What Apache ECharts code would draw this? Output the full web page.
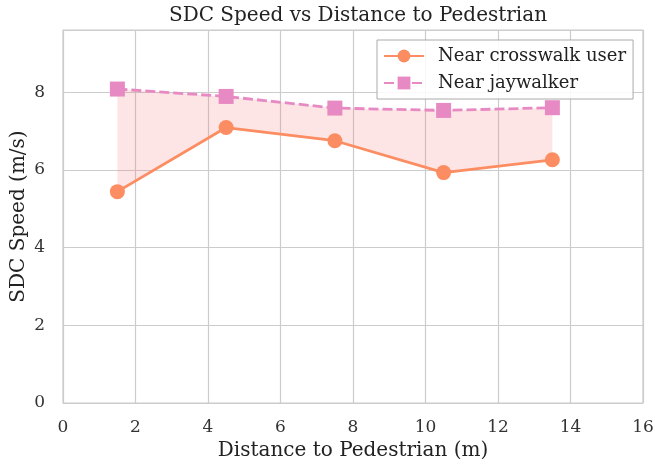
<!DOCTYPE html>
<html><head><meta charset="utf-8">
<script src="https://cdn.jsdelivr.net/npm/echarts@6/dist/echarts.min.js"></script>
<style>html,body{margin:0;padding:0;background:#fff}#c{width:655px;height:464px}</style>
</head><body><div id="c"></div>
<script>
const distances = [1.5, 4.5, 7.5, 10.5, 13.5];
const crosswalkSpeed = [5.44, 7.09, 6.75, 5.93, 6.26];
const jaywalkerSpeed = [8.08, 7.89, 7.59, 7.53, 7.60];
const xTicks = [0, 2, 4, 6, 8, 10, 12, 14, 16];
const yTicks = [0, 2, 4, 6, 8];

const FONT = 'DejaVu Serif';
const chart = echarts.init(document.getElementById('c'));
const pair = (xs, ys) => xs.map((x, i) => [x, ys[i]]);

chart.setOption({
  animation: false,
  textStyle: {fontFamily: FONT},
  title: {text: 'SDC Speed vs Distance to Pedestrian', left: 353, top: 1, textAlign: 'center',
    textStyle: {fontFamily: FONT, fontSize: 20, fontWeight: 'normal', color: '#222'}},
  grid: {left: 63, right: 12, top: 30, bottom: 61, show: true, borderColor: '#cccccc', borderWidth: 1.2,
    containLabel: false, outerBoundsMode: 'none'},
  legend: {
    data: ['Near crosswalk user', 'Near jaywalker'],
    orient: 'vertical', left: 377, top: 40,
    padding: [7, 7, 7, 6], itemGap: 9, itemWidth: 40, itemHeight: 16,
    borderColor: '#aaaaaa', borderWidth: 1, backgroundColor: 'rgba(255,255,255,0.85)', borderRadius: 0,
    textStyle: {fontFamily: FONT, fontSize: 18, color: '#222', padding: [0, 0, 0, 9]}
  },
  xAxis: {type: 'value', min: xTicks[0], max: xTicks[xTicks.length - 1], interval: 2,
    name: 'Distance to Pedestrian (m)', nameLocation: 'middle', nameGap: 38, nameMoveOverlap: false,
    nameTextStyle: {fontFamily: FONT, fontSize: 20, color: '#222'},
    axisLine: {show: false}, axisTick: {show: false},
    axisLabel: {fontFamily: FONT, fontSize: 17, color: '#333', margin: 16},
    splitLine: {show: true, lineStyle: {color: '#cccccc', width: 1.2}}},
  yAxis: {type: 'value', min: 0, max: 9.6, interval: 2,
    name: 'SDC Speed (m/s)', nameLocation: 'middle', nameGap: 34, nameMoveOverlap: false,
    nameTextStyle: {fontFamily: FONT, fontSize: 20, color: '#222'},
    axisLine: {show: false}, axisTick: {show: false},
    axisLabel: {fontFamily: FONT, fontSize: 17, color: '#333', margin: 18,
      formatter: v => yTicks.includes(v) ? String(v) : ''},
    splitLine: {show: true, lineStyle: {color: '#cccccc', width: 1.2}}},
  series: [
    {name: 'band', type: 'custom', silent: true, z: 1,
      data: [0],
      renderItem: (params, api) => {
        const top = distances.map((x, i) => api.coord([x, jaywalkerSpeed[i]]));
        const bot = distances.map((x, i) => api.coord([x, crosswalkSpeed[i]])).reverse();
        return {type: 'polygon', shape: {points: top.concat(bot)},
          style: {fill: 'rgba(250,110,110,0.18)', stroke: 'none'}};
      }},
    {name: 'Near crosswalk user', type: 'line', data: pair(distances, crosswalkSpeed),
      symbol: 'circle', symbolSize: 15, itemStyle: {color: '#fc8d62'},
      lineStyle: {color: '#fc8d62', width: 2.8}, z: 3},
    {name: 'Near jaywalker', type: 'line', data: pair(distances, jaywalkerSpeed),
      symbol: 'rect', symbolSize: 15, itemStyle: {color: '#e78ac3'},
      lineStyle: {color: '#e78ac3', width: 2.8, type: [10, 4]}, z: 3}
  ]
});
</script></body></html>
